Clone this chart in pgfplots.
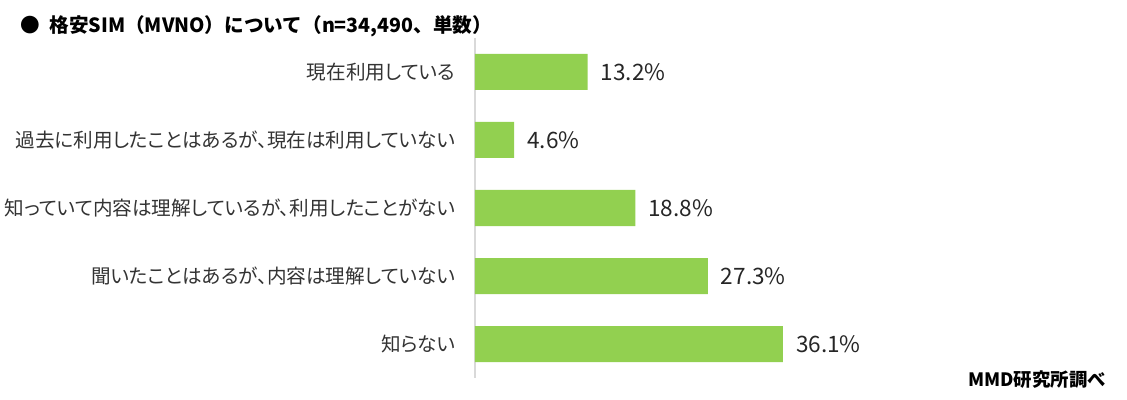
\documentclass[border=0pt]{standalone}
\usepackage{pgfplots}
\pgfplotsset{compat=1.18}
\usepackage{fontspec}
\setmainfont{Noto Sans CJK JP}
\newfontfamily\labelfont[RawFeature=+palt]{Noto Sans CJK JP}
\definecolor{bargreen}{HTML}{92D050}
\definecolor{axisgray}{HTML}{D9D9D9}
\begin{document}
\begin{tikzpicture}
\useasboundingbox (-237.5pt,-11pt) rectangle (326pt,189pt);
\begin{axis}[
  at={(0,0)}, anchor=south west,
  scale only axis,
  width=170.6pt, height=170pt,
  xbar, bar width=18pt,
  xmin=0, xmax=40,
  ymin=-0.5, ymax=4.5,
  y dir=reverse,
  axis x line=none,
  axis y line*=left,
  y axis line style={draw=axisgray, line width=0.6pt, -},
  ytick={0,1,2,3,4},
  yticklabels={現在利用している, 過去に利用したことはあるが、現在は利用していない, 知っていて内容は理解しているが、利用したことがない, 聞いたことはあるが、内容は理解していない, 知らない},
  ytick style={draw=none},
  yticklabel style={font=\labelfont\fontsize{9.8}{11}\selectfont, color=black!80, xshift=-2pt},
  /pgf/number format/assume math mode=true,
  nodes near coords={\pgfmathprintnumber[fixed,precision=1,fixed zerofill]{\pgfplotspointmeta}\%},
  nodes near coords style={font=\fontsize{11.3}{13}\selectfont, color=black!85, anchor=west, xshift=3pt},
  point meta=x,
  clip=false,
]
\addplot[fill=bargreen, draw=none] coordinates {
(13.2,0)
(4.6,1)
(18.8,2)
(27.3,3)
(36.1,4)
};
\end{axis}
\node[anchor=west, font=\bfseries\fontsize{9.8}{11}\selectfont] at (-231pt,176pt) {●\hspace{0.5em}格安SIM（MVNO）について（n=34,490、単数）};
\node[anchor=east, font=\bfseries\fontsize{9.2}{10}\selectfont] at (319pt,-1pt) {MMD研究所調べ};
\end{tikzpicture}
\end{document}
